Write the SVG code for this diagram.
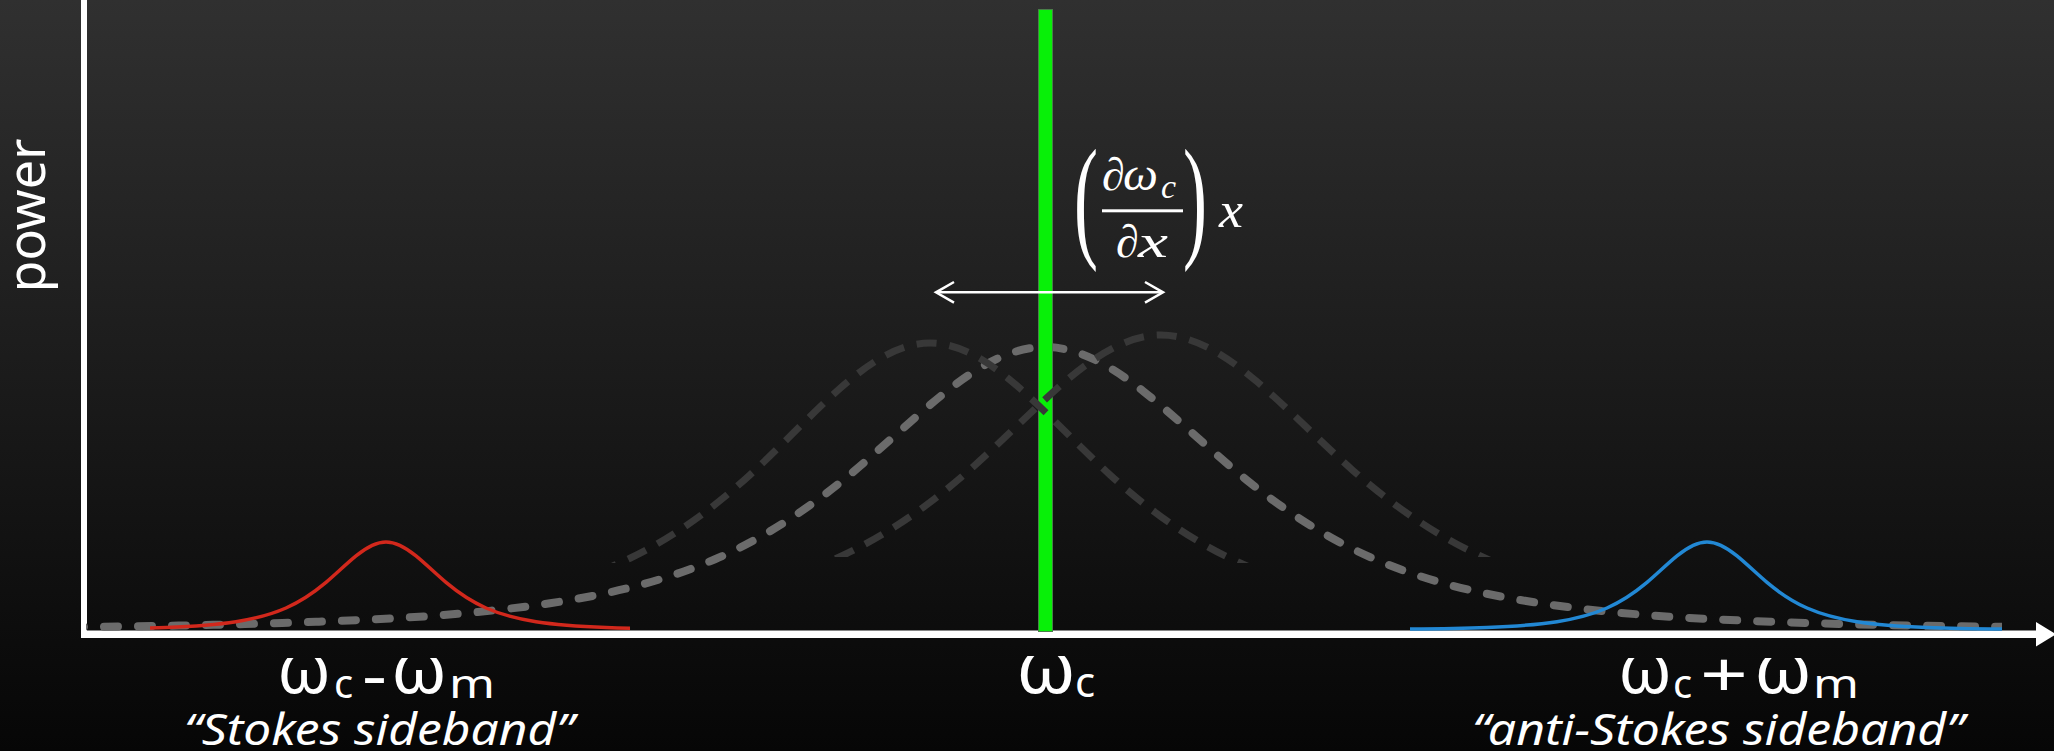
<svg xmlns="http://www.w3.org/2000/svg" width="2054" height="751" viewBox="0 0 2054 751">
<style>
  .lbl { font-family: "Noto Sans", "Open Sans", sans-serif; fill: #ffffff; }
  .ital { font-family: "Noto Sans", "Open Sans", sans-serif; font-style: italic; fill: #ffffff; }
  .math { font-family: "Liberation Serif", "DejaVu Serif", serif; fill: #ffffff; }
  .bright { fill: none; stroke: #6b6b6b; stroke-width: 8; stroke-dasharray: 14 20; stroke-linecap: round; }
  .dim { fill: none; stroke: #383838; stroke-width: 7; stroke-dasharray: 20 13; }
  .stokes { fill: none; stroke: #d2281c; stroke-width: 3.5; }
  .anti { fill: none; stroke: #2288d4; stroke-width: 3.5; }
</style>
<defs>
  <linearGradient id="bg" x1="0" y1="0" x2="0" y2="1">
    <stop offset="0" stop-color="#303030"/>
    <stop offset="1" stop-color="#060606"/>
  </linearGradient>
  <path id="bell" vector-effect="non-scaling-stroke" d="M -4.5 0.0022145 C -4.0667 0.0030274 -3.6333 0.0040092 -3.2 0.0079153 C -2.8667 0.01092 -2.5333 0.014594 -2.2 0.029321 C -1.9667 0.03963 -1.7333 0.053893 -1.5 0.094675 C -1.3333 0.12381 -1.1667 0.16667 -1 0.25 C -0.8667 0.31667 -0.7333 0.41345 -0.6 0.54066 C -0.5 0.63607 -0.4 0.74902 -0.3 0.84168 C -0.2 0.93434 -0.1 1 0 1 C 0.1 1 0.2 0.93434 0.3 0.84168 C 0.4 0.74902 0.5 0.63607 0.6 0.54066 C 0.7333 0.41345 0.8667 0.31667 1 0.25 C 1.1667 0.16667 1.3333 0.12381 1.5 0.094675 C 1.7333 0.053893 1.9667 0.03963 2.2 0.029321 C 2.5333 0.014594 2.8667 0.01092 3.2 0.0079153 C 3.6333 0.0040092 4.0667 0.0030274 4.5 0.0022145"/>
  <clipPath id="clipBright"><rect x="86" y="0" width="1916" height="640"/></clipPath>
  <clipPath id="clipDimL"><rect x="0" y="0" width="2054" height="563"/></clipPath>
  <clipPath id="clipDimR"><rect x="0" y="0" width="2054" height="557"/></clipPath>
  <clipPath id="clipRed"><rect x="150" y="0" width="480" height="640"/></clipPath>
  <clipPath id="clipBlue"><rect x="1410" y="0" width="592" height="640"/></clipPath>
</defs>

<rect id="background" x="0" y="0" width="2054" height="751" fill="url(#bg)"/>

<g id="axes">
  <rect x="81" y="0" width="6" height="638" fill="#ffffff"/>
  <rect x="81" y="630.5" width="1957" height="7.5" fill="#ffffff"/>
  <polygon points="2036,622 2056,634.2 2036,646.5" fill="#ffffff"/>
</g>

<g id="cavity-broad" clip-path="url(#clipBright)">
  <use href="#bell" class="bright" transform="translate(1045,630) scale(330,-283)"/>
</g>

<g id="carrier">
  <rect x="1038.5" y="9.5" width="14" height="622" fill="#08f008" stroke="#4a7f4a" stroke-width="1"/>
</g>

<g id="cavity-shifted">
  <g clip-path="url(#clipDimL)">
    <use href="#bell" class="dim" transform="translate(930,630) scale(300,-287)"/>
  </g>
  <g clip-path="url(#clipDimR)">
    <use href="#bell" class="dim" transform="translate(1161,630) scale(320,-295)"/>
  </g>
</g>

<g id="sideband-stokes" clip-path="url(#clipRed)">
  <use href="#bell" class="stokes" transform="translate(386,630) scale(100,-88)"/>
</g>
<g id="sideband-antistokes" clip-path="url(#clipBlue)">
  <use href="#bell" class="anti" transform="translate(1707,630) scale(100,-88)"/>
</g>

<g id="shift-arrow" fill="none" stroke="#ffffff" stroke-width="2.5">
  <line x1="937" y1="292.3" x2="1161" y2="292.3"/>
  <polyline points="954,282 936,292.3 954,302.6"/>
  <polyline points="1145,282 1163,292.3 1145,302.6"/>
</g>

<g id="formula">
  <text class="math" font-size="60" transform="translate(1074,211) scale(1.2,2.25)" x="0" y="14.4">(</text>
  <text class="math" font-size="60" transform="translate(1183,211) scale(1.2,2.25)" x="0" y="14.4">)</text>
  <text class="math" font-size="46"><tspan x="1102" y="190">∂</tspan><tspan x="1123" y="190" font-style="italic" textLength="35" lengthAdjust="spacingAndGlyphs">ω</tspan><tspan x="1161" y="198" font-size="34" font-style="italic">c</tspan></text>
  <rect x="1102" y="209.3" width="81" height="3" fill="#ffffff"/>
  <text class="math" font-size="46"><tspan x="1116" y="257">∂</tspan><tspan x="1138" y="257" font-style="italic" textLength="30" lengthAdjust="spacingAndGlyphs">x</tspan></text>
  <text class="math" font-size="50" font-style="italic" x="1219" y="227" textLength="24" lengthAdjust="spacingAndGlyphs">x</text>
</g>

<g id="labels">
  <text class="lbl" font-size="52" transform="translate(45,215.5) rotate(-90)" x="0" y="0" text-anchor="middle">power</text>
  <text class="lbl"><tspan x="277" y="693" font-size="66" textLength="54" lengthAdjust="spacingAndGlyphs">ω</tspan><tspan x="334" y="698" font-size="40">c</tspan><tspan x="362" y="697" font-size="62" textLength="25" lengthAdjust="spacingAndGlyphs">-</tspan><tspan x="391" y="693" font-size="66" textLength="56" lengthAdjust="spacingAndGlyphs">ω</tspan><tspan x="449" y="698" font-size="40" textLength="46" lengthAdjust="spacingAndGlyphs">m</tspan></text>
  <text class="ital" x="184" y="745" font-size="44" textLength="390" lengthAdjust="spacingAndGlyphs">“Stokes sideband”</text>
  <text class="lbl"><tspan x="1016" y="693" font-size="70" textLength="60" lengthAdjust="spacingAndGlyphs">ω</tspan><tspan x="1075" y="697" font-size="42">c</tspan></text>
  <text class="lbl"><tspan x="1618" y="693" font-size="66" textLength="54" lengthAdjust="spacingAndGlyphs">ω</tspan><tspan x="1673" y="698" font-size="40">c</tspan><tspan x="1700" y="697" font-size="62" textLength="48" lengthAdjust="spacingAndGlyphs">+</tspan><tspan x="1754" y="693" font-size="66" textLength="58" lengthAdjust="spacingAndGlyphs">ω</tspan><tspan x="1813" y="698" font-size="40" textLength="46" lengthAdjust="spacingAndGlyphs">m</tspan></text>
  <text class="ital" x="1472" y="745" font-size="44" textLength="492" lengthAdjust="spacingAndGlyphs">“anti-Stokes sideband”</text>
</g>
</svg>
